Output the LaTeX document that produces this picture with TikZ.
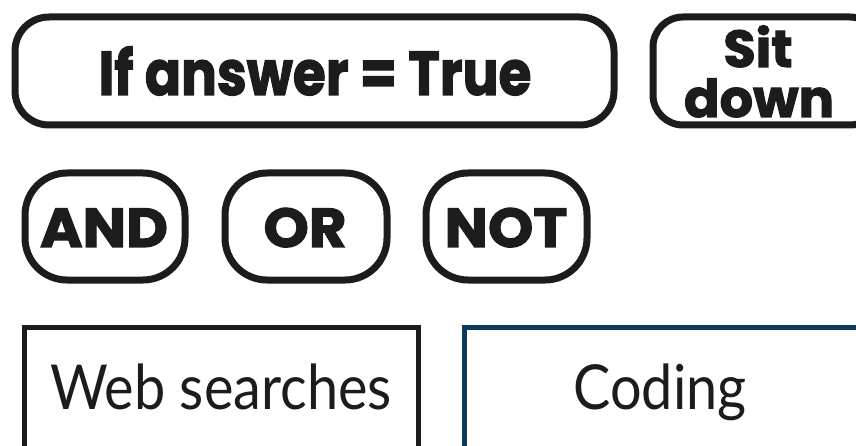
\documentclass[tikz,border=0pt]{standalone}
\usepackage{fontspec}
\setmainfont{Poppins}
\newfontfamily\headfont{Poppins Bold}[FakeBold=2]
\newfontfamily\bodyfont{Lato}
\definecolor{ink}{HTML}{1E1B1C}
\definecolor{navy}{HTML}{0B3A5A}
\begin{document}
\begin{tikzpicture}[x=1pt,y=-1pt,
  pill/.style={draw=ink,line width=7pt,rounded corners=34pt},
  opbox/.style={draw=ink,line width=7pt,rounded corners=42pt},
  plainbox/.style={draw=ink,line width=5pt},
  label/.style={text=ink,inner sep=0pt,anchor=base}]
\useasboundingbox (0,0) rectangle (856,446);
\clip (0,0) rectangle (856,446);
% statement pills
\draw[pill] (15,17) rectangle (614,125);
\draw[pill,rounded corners=30pt] (653,17) rectangle (880,125);
\node[label] (cond) at (315,95) {\headfont\fontsize{62}{62}\selectfont\scalebox{0.86}[1]{If answer = True}};
\node[label] (sit) at (758,67) {\headfont\fontsize{52}{52}\selectfont\scalebox{1.01}[1]{Sit}};
\node[label] (down) at (759,117) {\headfont\fontsize{52}{52}\selectfont\scalebox{1.01}[1]{down}};
% boolean operators
\draw[opbox] (25,173) rectangle (185,280);
\draw[opbox] (225,173) rectangle (387,280);
\draw[opbox] (426,173) rectangle (587,280);
\node[label] (and) at (104,247) {\headfont\fontsize{55}{55}\selectfont\scalebox{1.05}[1]{AND}};
\node[label] (or) at (305,247) {\headfont\fontsize{55}{55}\selectfont\scalebox{1.05}[1]{OR}};
\node[label] (not) at (506,247) {\headfont\fontsize{55}{55}\selectfont\scalebox{1.05}[1]{NOT}};
% topic boxes
\draw[plainbox] (24,327) rectangle (418,470);
\draw[plainbox,draw=navy] (464,327) rectangle (900,470);
\node[label] (web) at (221,409) {\bodyfont\fontsize{62}{62}\selectfont\scalebox{0.9}[1]{Web searches}};
\node[label] (code) at (660,409) {\bodyfont\fontsize{62}{62}\selectfont\scalebox{0.9}[1]{Coding}};
\end{tikzpicture}
\end{document}
